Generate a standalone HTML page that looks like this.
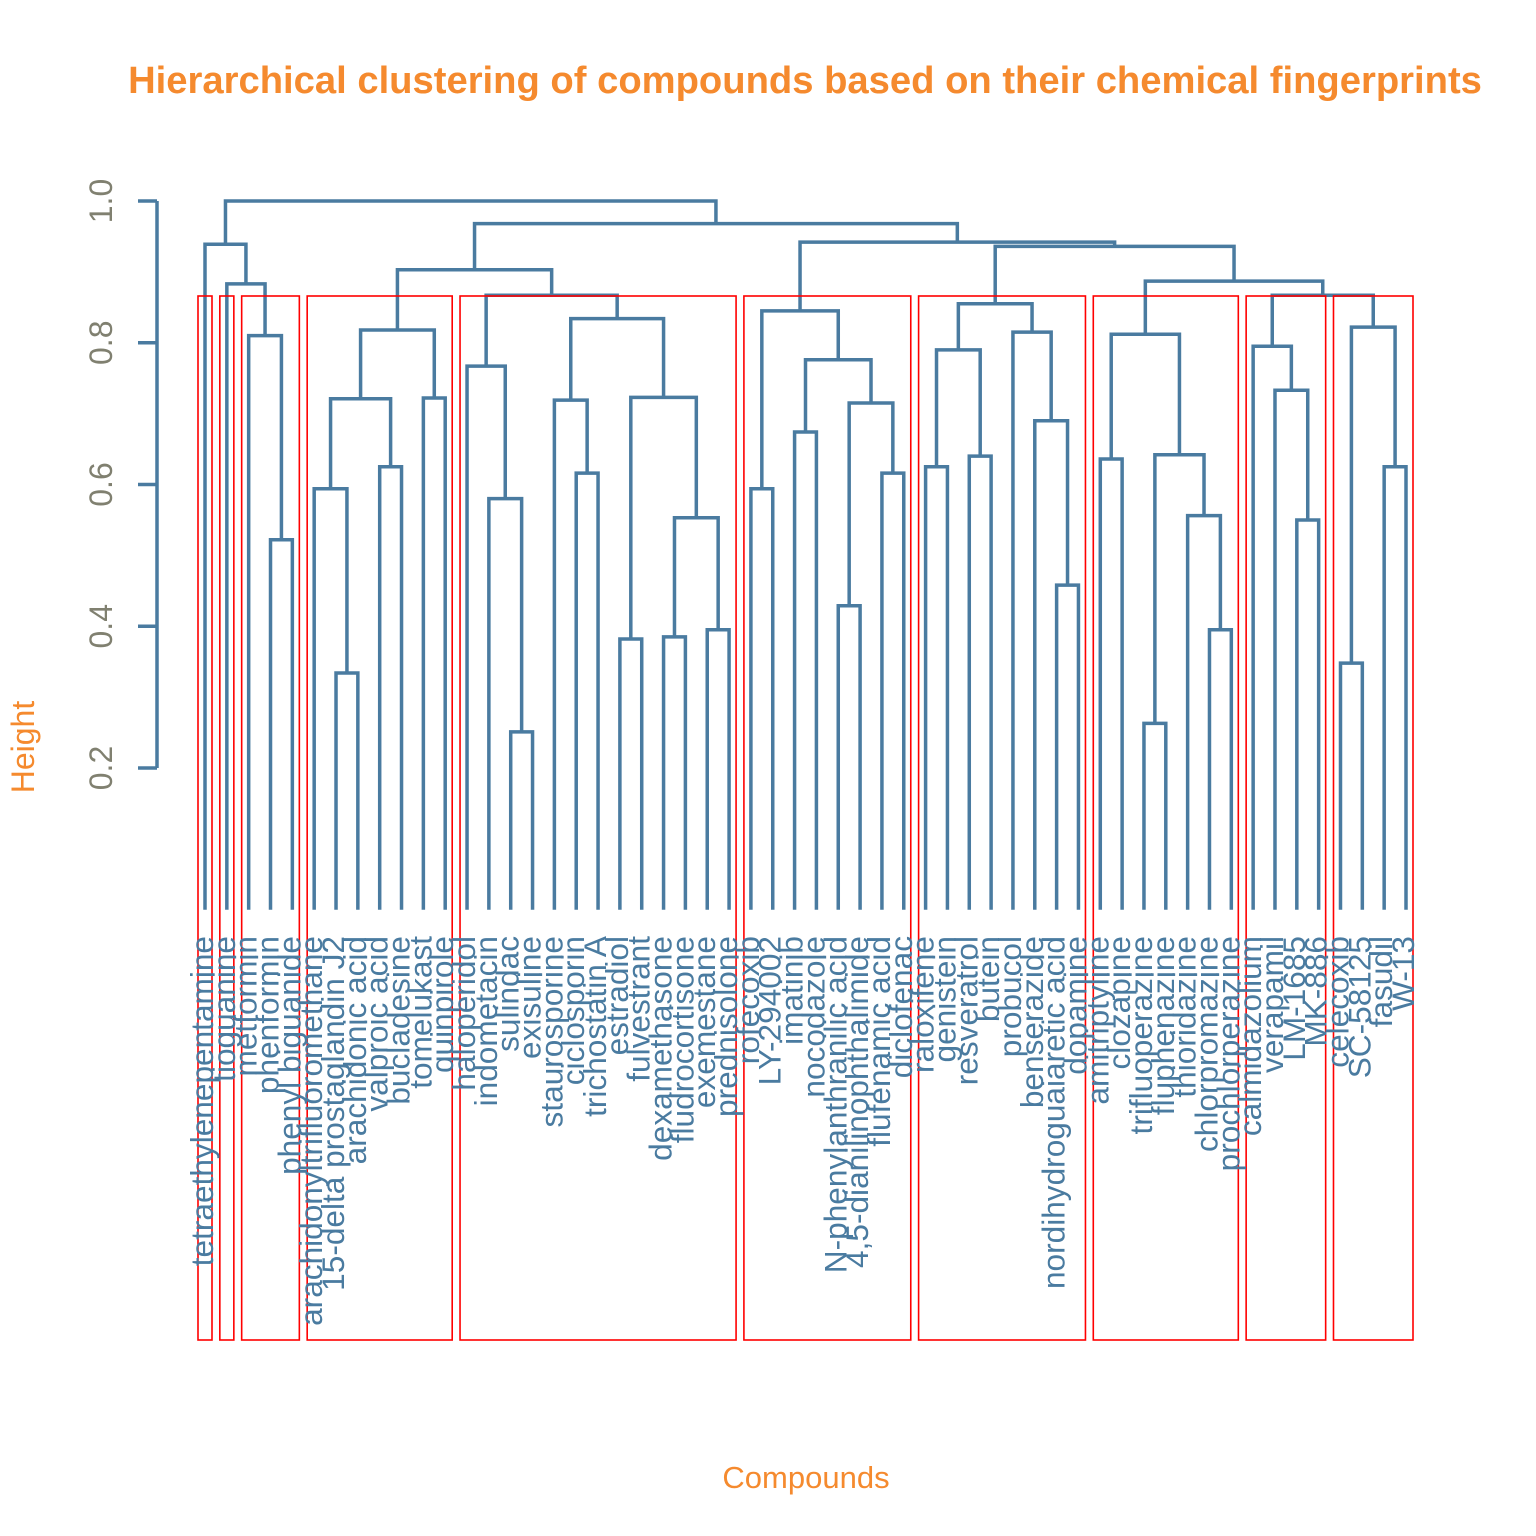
<!DOCTYPE html>
<html><head><meta charset="utf-8"><style>
body{margin:0;background:#fff}
svg{display:block;font-family:"Liberation Sans",Arial,sans-serif}
</style></head><body>
<svg id="chart" width="1536" height="1536" viewBox="0 0 1536 1536">
<text x="805" y="93" text-anchor="middle" font-size="38.2" font-weight="bold" fill="#F58A2E">Hierarchical clustering of compounds based on their chemical fingerprints</text>
<text x="806" y="1488" text-anchor="middle" font-size="31" fill="#F58A2E">Compounds</text>
<text transform="translate(34,747) rotate(-90)" text-anchor="middle" font-size="32" fill="#F58A2E">Height</text>
<g id="yaxis"></g>
<g id="tree"></g>
<g id="rects"></g>
<g id="labels"></g>
</svg>
<script>
const labels = ["tetraethylenepentamine","tioguanine","metformin","phenformin","phenyl biguanide","arachidonyltrifluoromethane","15-delta prostaglandin J2","arachidonic acid","valproic acid","bucladesine","tomelukast","quinpirole","haloperidol","indometacin","sulindac","exisuline","staurosporine","ciclosporin","trichostatin A","estradiol","fulvestrant","dexamethasone","fludrocortisone","exemestane","prednisolone","rofecoxib","LY-294002","imatinib","nocodazole","N-phenylanthranilic acid","4,5-dianilinophthalimide","flufenamic acid","diclofenac","raloxifene","genistein","resveratrol","butein","probucol","benserazide","nordihydroguaiaretic acid","dopamine","amitriptyline","clozapine","trifluoperazine","fluphenazine","thioridazine","chlorpromazine","prochlorperazine","calmidazolium","verapamil","LM-1685","MK-886","celecoxib","SC-58125","fasudil","W-13"];
const mergeLeft  = [-20,-22,-24,2,1,-18,-17,7,-15,-14,-13,11,-7,-6,-9,14,-11,16,18,-4,-3,-2,-1,-26,-28,-30,-32,26,25,24,-34,-36,31,-40,-39,-38,33,-44,-47,-46,38,-42,42,-51,-50,-49,-53,-55,47,46,43,37,30,19,23];
const mergeRight = [-21,-23,-25,3,4,-19,6,5,-16,9,10,8,-8,13,-10,15,-12,17,12,-5,20,21,22,-27,-29,-31,-33,27,28,29,-35,-37,32,-41,34,35,36,-45,-48,39,40,-43,41,-52,44,45,-54,-56,48,49,50,51,52,53,54];
const mergeHeight= [0.382,0.385,0.395,0.553,0.723,0.616,0.719,0.834,0.251,0.580,0.767,0.867,0.334,0.594,0.625,0.721,0.722,0.818,0.903,0.522,0.810,0.883,0.939,0.594,0.674,0.429,0.616,0.715,0.776,0.845,0.625,0.640,0.790,0.458,0.690,0.815,0.855,0.263,0.395,0.556,0.642,0.636,0.812,0.550,0.733,0.795,0.348,0.625,0.822,0.867,0.887,0.936,0.942,0.968,1.0];
const clusterStart = [1,2,3,6,13,26,34,42,49,53];
const clusterEnd   = [1,2,5,12,25,33,41,48,52,56];
const yTicks = [0.2,0.4,0.6,0.8,1.0];
const yTickLabels = ["0.2","0.4","0.6","0.8","1.0"];

const NS="http://www.w3.org/2000/svg";
const X0=205, X1=1406;
const xLeaf=i=>X0+(i-1)*(X1-X0)/(labels.length-1);
const yH=h=>201+(1-h)*708.75;
const col="#4A7BA0";
function mk(tag,attrs,parent){const e=document.createElementNS(NS,tag);for(const k in attrs)e.setAttribute(k,attrs[k]);parent.appendChild(e);return e;}

const tree=document.getElementById('tree');
const nodeX=[], nodeH=[];
function getX(ref){return ref<0?xLeaf(-ref):nodeX[ref-1];}
function getH(ref){return ref<0?0:nodeH[ref-1];}
for(let i=0;i<mergeHeight.length;i++){
  const a=mergeLeft[i], b=mergeRight[i], h=mergeHeight[i];
  const xa=getX(a), xb=getX(b);
  nodeX.push((xa+xb)/2); nodeH.push(h);
  const p=mk('path',{d:`M${xa},${yH(getH(a))}V${yH(h)}H${xb}V${yH(getH(b))}`,fill:'none',stroke:col,'stroke-width':3.5},tree);
  
  
}

const rects=document.getElementById('rects');
for(let i=0;i<clusterStart.length;i++){
  const l=xLeaf(clusterStart[i])-7, r=xLeaf(clusterEnd[i])+7;
  const e=mk('rect',{x:l,y:296,width:r-l,height:1044,fill:'none',stroke:'#FF0000','stroke-width':1.6},rects);
  
  
}

const lg=document.getElementById('labels');
labels.forEach((t,i)=>{
  const x=xLeaf(i+1)+8, y=936;
  const e=mk('text',{transform:`translate(${x},${y}) rotate(-90)`,'text-anchor':'end','font-size':31.6,fill:col},lg);
  e.textContent=t;
  
  
});

const ya=document.getElementById('yaxis');
const ax=mk('path',{d:`M157,${yH(yTicks[0])}V${yH(yTicks[yTicks.length-1])}`,stroke:col,'stroke-width':3.5,fill:'none'},ya);


yTicks.forEach((v,i)=>{
  const y=yH(v);
  const t=mk('line',{x1:138,x2:157,y1:y,y2:y,stroke:col,'stroke-width':3.5},ya);
  
  
  const tx=mk('text',{transform:`translate(112,${y}) rotate(-90)`,'text-anchor':'middle','font-size':32,fill:'#808070'},ya);
  tx.textContent=yTickLabels[i];
  
  
});
</script>
</body></html>
